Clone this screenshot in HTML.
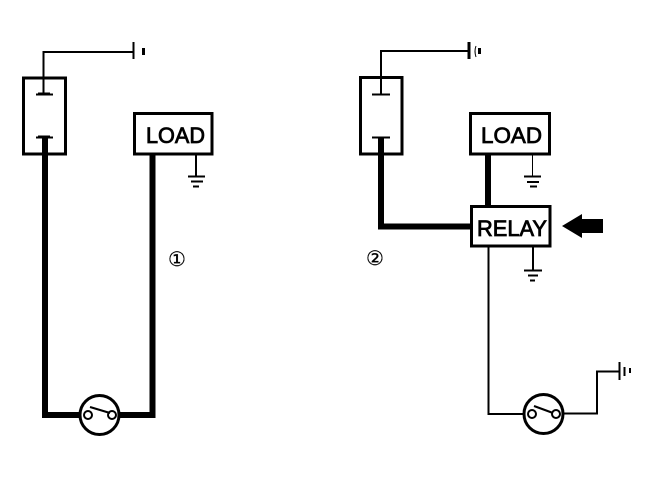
<!DOCTYPE html>
<html>
<head>
<meta charset="utf-8">
<style>
html,body{margin:0;padding:0;background:#fff;width:672px;height:496px;overflow:hidden}
svg{display:block}
text{font-family:"Liberation Sans",sans-serif;fill:#000}
.b{stroke:#000;stroke-width:.8px}
.c{font-family:"DejaVu Sans",sans-serif;stroke:#000;stroke-width:.25px}
</style>
</head>
<body>
<svg width="672" height="496" viewBox="0 0 672 496" xmlns="http://www.w3.org/2000/svg" fill="none" stroke="#000" shape-rendering="crispEdges">
<!-- Left diagram -->
<rect x="23.5" y="78" width="42" height="76" stroke-width="3"/>
<rect x="134.5" y="113.5" width="77.5" height="40.5" stroke-width="3"/>
<path d="M43.5 94V52H133" stroke-width="2"/>
<path d="M36 94.5H53M36 137.5H53" stroke-width="2"/>
<path d="M38 136H50M38 93H50" stroke-width="1"/>
<path d="M133.5 42V59" stroke-width="2"/>
<path d="M143.5 48V55" stroke-width="3"/>
<path d="M45 138V415H80M118 415H152.5V155" stroke-width="6"/>
<path d="M196 155V176" stroke-width="2"/>
<path d="M188 176.5H205M191 181.5H203M193 186.5H199" stroke-width="2"/>
<g shape-rendering="auto">
<circle cx="99.5" cy="415" r="19.5" stroke-width="3" fill="#fff"/>
<circle cx="88" cy="415" r="4" stroke-width="2" fill="#fff"/>
<circle cx="112" cy="415" r="4" stroke-width="2" fill="#fff"/>
<path d="M90 407L110 413" stroke-width="2"/>
</g>
<text class="b" x="146" y="143" font-size="22" textLength="59" lengthAdjust="spacingAndGlyphs">LOAD</text>
<text class="c" x="168" y="266" font-size="20">①</text>

<!-- Right diagram -->
<rect x="360.5" y="77.5" width="41.5" height="76.5" stroke-width="3"/>
<rect x="470.5" y="113.5" width="79" height="40.5" stroke-width="3"/>
<rect x="471.5" y="206.5" width="78.5" height="39.5" stroke-width="3"/>
<path d="M381 94V51H468" stroke-width="2"/>
<path d="M372 94.5H390M372 137.5H390" stroke-width="2"/>
<path d="M469 42V59" stroke-width="3"/>
<path d="M476 46Q474 51 476 57" stroke-width="1" shape-rendering="auto"/>
<path d="M479.5 48V54" stroke-width="3"/>
<path d="M381 138V226.5H471" stroke-width="6"/>
<path d="M488 155V205" stroke-width="6"/>
<path d="M532.5 155V176" stroke-width="1"/>
<path d="M524 176.5H541M527 182H539M530 186.500H537" stroke-width="2"/>
<path d="M533 247V270" stroke-width="2"/>
<path d="M524 270.5H542M528 275.5H538M530 280.5H535" stroke-width="2"/>
<path d="M488.5 247V414H524M563 413.5H597V371.5H619" stroke-width="2"/>
<path d="M619.5 362V380" stroke-width="2"/>
<path d="M624.5 367V376M630 368V373" stroke-width="2"/>
<g shape-rendering="auto">
<circle cx="543.5" cy="414" r="19.5" stroke-width="3" fill="#fff"/>
<circle cx="532" cy="414" r="4" stroke-width="2" fill="#fff"/>
<circle cx="556" cy="414" r="4" stroke-width="2" fill="#fff"/>
<path d="M534 406L553 413" stroke-width="2"/>
<polygon points="562,226 582,214 582,219 603,219 603,233 582,233 582,238" fill="#000" stroke="none"/>
</g>
<text class="b" x="481" y="143" font-size="22" textLength="61" lengthAdjust="spacingAndGlyphs">LOAD</text>
<text class="b" x="477" y="236" font-size="22" textLength="70" lengthAdjust="spacingAndGlyphs">RELAY</text>
<text class="c" x="366" y="265" font-size="20">②</text>
</svg>
</body>
</html>
